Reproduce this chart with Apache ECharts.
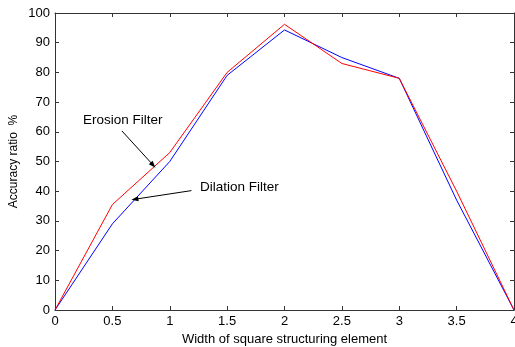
<!DOCTYPE html>
<html>
<head>
<meta charset="utf-8">
<script src="https://cdn.jsdelivr.net/npm/echarts@6/dist/echarts.min.js"></script>
<style>
  html, body { margin: 0; padding: 0; background: #fff; }
  #chart { width: 515px; height: 347px; }
</style>
</head>
<body>
<div id="chart"></div>
<script>
// widths of the square structuring element
const widths = [0, 0.5, 1, 1.5, 2, 2.5, 3, 3.5, 4];
const erosion = [0, 35.5, 53, 80, 96.2, 83, 78, 40, 0];
const dilation = [0, 29, 50, 79, 94.3, 85, 78, 37, 0];
const xTicks = ['0', '0.5', '1', '1.5', '2', '2.5', '3', '3.5', '4'];

// annotation arrows, in data units: [fromX, fromY, toX, toY]
const erosionArrow = [0.583, 60.3, 0.855, 48.8];
const dilationArrow = [1.189, 40.2, 0.696, 37.3];

const font = 'Liberation Sans, Arial, sans-serif';
const axisColor = '#333';

function pairs(ys) {
	return widths.map((x, i) => [x, ys[i]]);
}

function arrow(a) {
	return {
		silent: true,
		symbol: ['none', 'triangle'],
		symbolSize: [5, 7],
		label: { show: false },
		lineStyle: { color: '#000', width: 1, type: 'solid' },
		data: [[{ coord: [a[0], a[1]] }, { coord: [a[2], a[3]] }]]
	};
}

const chart = echarts.init(document.getElementById('chart'));

const baseX = {
	type: 'value',
	min: 0,
	max: 4,
	interval: 0.5,
	splitLine: { show: false },
	axisLine: { show: true, onZero: false, lineStyle: { color: axisColor, width: 1 } },
	axisTick: { show: true, inside: true, length: 4, lineStyle: { color: axisColor } }
};
const baseY = {
	type: 'value',
	min: 0,
	max: 100,
	interval: 10,
	splitLine: { show: false },
	axisLine: { show: true, onZero: false, lineStyle: { color: axisColor, width: 1 } },
	axisTick: { show: true, inside: true, length: 4, lineStyle: { color: axisColor } }
};

chart.setOption({
	animation: false,
	textStyle: { fontFamily: font },
	grid: { left: 55, right: 1, top: 13, bottom: 37, outerBoundsMode: 'none', containLabel: false },
	xAxis: [
		Object.assign({}, baseX, {
			position: 'bottom',
			name: 'Width of square structuring element',
			nameLocation: 'middle',
			nameGap: 16,
			nameTextStyle: { color: '#000', fontSize: 13, fontFamily: font },
			axisLabel: {
				color: '#000',
				fontSize: 13,
				margin: 5,
				formatter: (v) => xTicks[Math.round(v * 2)] || ''
			}
		}),
		Object.assign({}, baseX, {
			position: 'top',
			axisLabel: { show: false }
		})
	],
	yAxis: [
		Object.assign({}, baseY, {
			position: 'left',
			name: 'Accuracy ratio  %',
			nameLocation: 'middle',
			nameGap: 35,
			nameMoveOverlap: false,
			nameTextStyle: { color: '#000', fontSize: 12, fontFamily: font },
			axisLabel: { color: '#000', fontSize: 13, margin: 5 }
		}),
		Object.assign({}, baseY, {
			position: 'right',
			axisLabel: { show: false }
		})
	],
	graphic: [
		{
			type: 'text',
			left: 83,
			top: 113,
			style: { text: 'Erosion Filter', font: '13.5px ' + font, fill: '#000' }
		},
		{
			type: 'text',
			left: 200,
			top: 180,
			style: { text: 'Dilation Filter', font: '13.5px ' + font, fill: '#000' }
		}
	],
	series: [
		{
			name: 'Dilation Filter',
			type: 'line',
			data: pairs(dilation),
			showSymbol: false,
			lineStyle: { color: '#0000ff', width: 1 },
			markLine: arrow(dilationArrow)
		},
		{
			name: 'Erosion Filter',
			type: 'line',
			data: pairs(erosion),
			showSymbol: false,
			lineStyle: { color: '#ff0000', width: 1 },
			markLine: arrow(erosionArrow)
		}
	]
});
</script>
</body>
</html>
